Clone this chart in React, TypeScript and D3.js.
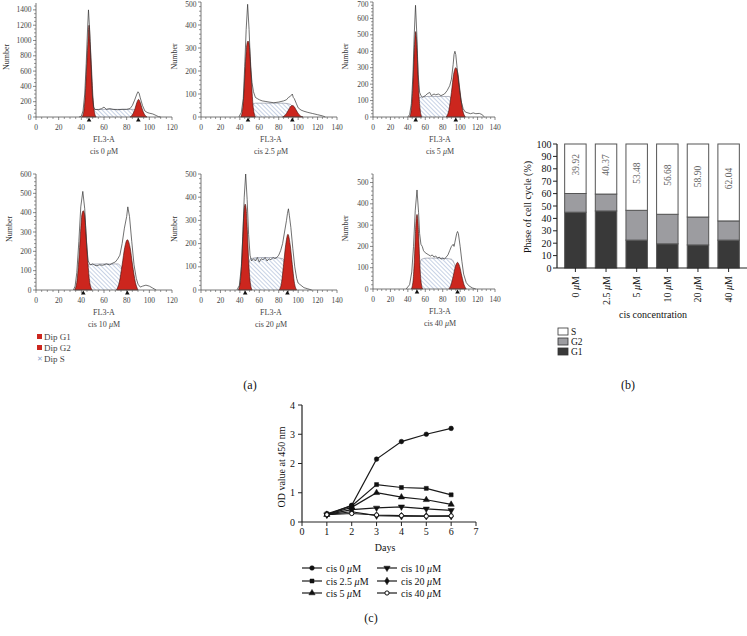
import React from 'react';
import * as d3 from 'd3';

type Pt = [number, number];

// ---------- (a) DNA histograms ----------
const histConc = ['0', '2.5', '5', '10', '20', '40'];
const g1Marks = [46.8, 48.4, 49, 41.7, 45.5, 50.5];
const g2Marks = [90.3, 94, 95, 80.6, 89, 97];

const outline0: Pt[] = [[38,0],[40,10],[41.5,80],[43,300],[44.3,700],[45.5,1150],[46.3,1400],[47.3,1150],[48.5,700],[49.7,300],[50.8,130],[52,100],[55,95],[58,110],[60,130],[62,100],[65,110],[68,100],[72,95],[76,100],[80,100],[83,110],[85,150],[87,220],[89,300],[90,330],[91,310],[92,250],[94,150],[96,80],[98,60],[100,50],[103,40],[106,20],[108,5],[110,0]];
const g1_0: Pt[] = [[40.5,0],[42,60],[43.3,250],[44.5,600],[45.7,950],[46.8,1200],[47.9,950],[49.1,600],[50.3,250],[51.6,60],[53,0]];
const g2_0: Pt[] = [[83,0],[85.5,40],[87.5,115],[89,190],[90.5,230],[92,190],[93.5,115],[95.5,40],[98,0]];
const s_0: Pt[] = [[46,0],[48,60],[50,95],[55,100],[60,100],[70,100],[80,100],[86,100],[89,60],[91,0]];

const outline25: Pt[] = [[39,0],[41.5,20],[43.5,80],[45,220],[46.5,380],[48,490],[49.5,380],[51,220],[52.5,150],[54,110],[56,85],[58,80],[60,75],[63,70],[66,68],[70,65],[75,62],[80,65],[85,70],[88,75],[90,85],[92,90],[94,100],[95,85],[96,80],[98,60],[100,40],[103,30],[106,25],[110,20],[115,15],[120,10],[125,5],[128,0]];
const g1_25: Pt[] = [[41,0],[43,40],[44.5,130],[45.8,240],[47.2,315],[48.4,330],[49.6,315],[51,240],[52.3,130],[53.8,40],[56,0]];
const g2_25: Pt[] = [[84,0],[87,10],[90,30],[92,45],[94,50],[96,45],[98,30],[101,10],[105,0]];
const s_25: Pt[] = [[48,0],[50,35],[53,55],[56,60],[70,60],[85,60],[92,55],[96,30],[100,0]];

const outline5: Pt[] = [[40,0],[42,15],[44,80],[45.8,250],[47.3,500],[48.8,680],[50.3,500],[51.8,260],[53.5,150],[55,130],[57,120],[60,130],[62,140],[65,150],[67,130],[70,140],[72,135],[75,140],[78,130],[82,140],[85,160],[88,190],[90,230],[92,320],[93,380],[94,400],[95,380],[96.5,300],[98.5,200],[101,100],[103.5,50],[106,30],[109,25],[112,20],[115,25],[118,20],[122,22],[125,15],[128,0]];
const g1_5: Pt[] = [[42,0],[44,50],[45.5,160],[46.8,330],[48,470],[49,520],[50,470],[51.2,330],[52.5,160],[54,50],[56,0]];
const g2_5: Pt[] = [[84,0],[87,40],[90,150],[92.5,260],[95,300],[97.5,260],[100,150],[103,40],[106,0]];
const s_5: Pt[] = [[49,0],[51,80],[54,120],[62,125],[77,125],[87,125],[91,100],[94,40],[96,0]];

const outline10: Pt[] = [[33,0],[34.5,20],[36,90],[37.8,250],[39.5,430],[41.3,510],[43,420],[44.5,250],[46,150],[48,130],[50,135],[53,125],[56,130],[59,128],[62,135],[65,130],[68,140],[70,145],[72,160],[74,180],[76,240],[78,320],[80,380],[81,430],[82.5,380],[84.5,250],[86.5,130],[88.5,60],[90,30],[92,15],[94,20],[97,25],[100,20],[103,10],[106,0]];
const g1_10: Pt[] = [[34,0],[36,40],[37.7,150],[39.2,290],[40.5,390],[41.7,410],[42.9,390],[44.2,290],[45.7,150],[47.4,40],[49.5,0]];
const g2_10: Pt[] = [[71,0],[73.5,40],[76,130],[78.3,220],[80.6,260],[83,220],[85.2,130],[87.7,40],[90,0]];
const s_10: Pt[] = [[41,0],[43,80],[46,130],[55,135],[65,135],[72,135],[76,110],[79,50],[81,0]];

const outline20: Pt[] = [[37,0],[39.5,20],[41.5,100],[43,230],[44.5,400],[46,500],[47.5,390],[49,240],[50.5,150],[52,125],[54,135],[56,125],[58,140],[60,120],[62,135],[64,130],[66,140],[68,125],[70,135],[72,130],[74,140],[76,135],[78,140],[80,150],[82,170],[84,200],[86,250],[88,300],[89,330],[90,350],[91,320],[92.5,270],[94.5,180],[96.5,100],[98.5,50],[100,30],[103,20],[106,10],[110,5],[114,0]];
const g1_20: Pt[] = [[38.5,0],[40.5,40],[42,130],[43.3,260],[44.4,345],[45.5,370],[46.6,345],[47.7,260],[49,130],[50.5,40],[52.5,0]];
const g2_20: Pt[] = [[80.5,0],[83,35],[85,110],[87.2,195],[89.5,240],[91.8,195],[94,110],[96,35],[98.5,0]];
const s_20: Pt[] = [[45,0],[48,90],[51,135],[60,140],[75,140],[84,135],[88,100],[91,40],[93,0]];

const outline40: Pt[] = [[38,0],[42,20],[44.5,80],[46.5,200],[48.5,370],[50.5,465],[52.3,360],[53.5,260],[55,210],[56.5,200],[58,180],[60,170],[62,165],[64,160],[66,155],[68,160],[70,150],[72,155],[74,145],[76,150],[78,140],[80,145],[82,140],[84,150],[86,160],[88,180],[90,200],[92,210],[93,200],[94,220],[96,260],[97,270],[98,260],[100,200],[102,130],[104,70],[107,30],[110,15],[114,5],[118,0]];
const g1_40: Pt[] = [[44,0],[46,40],[47.5,140],[48.7,260],[49.6,330],[50.5,350],[51.4,330],[52.3,260],[53.5,140],[55,40],[57,0]];
const g2_40: Pt[] = [[87,0],[89.5,20],[92,60],[94.5,105],[97,125],[99.5,105],[102,60],[104.5,20],[107,0]];
const s_40: Pt[] = [[50,0],[53,100],[56,140],[62,145],[78,145],[90,140],[95,100],[99,40],[102,0]];

const histOutlines = [outline0, outline25, outline5, outline10, outline20, outline40];
const histG1 = [g1_0, g1_25, g1_5, g1_10, g1_20, g1_40];
const histG2 = [g2_0, g2_25, g2_5, g2_10, g2_20, g2_40];
const histS = [s_0, s_25, s_5, s_10, s_20, s_40];
const histXMax = [120, 140, 140, 120, 140, 140];
const histYMax = [1490, 500, 700, 600, 500, 540];
const histYStep = [200, 100, 100, 100, 100, 100];
const histYMinor = [50, 20, 20, 20, 20, 20];
const legendA = ['Dip G1', 'Dip G2', 'Dip S'];

// ---------- (b) cell cycle phases ----------
const concLabels = ['0', '2.5', '5', '10', '20', '40'];
const g1Pct = [45.0, 46.0, 22.5, 19.5, 18.6, 22.5];
const g2Pct = [15.08, 13.63, 24.02, 23.82, 22.5, 15.46];
const sPct = [39.92, 40.37, 53.48, 56.68, 58.9, 62.04];
const phaseTicks = [0, 10, 20, 30, 40, 50, 60, 70, 80, 90, 100];

// ---------- (c) proliferation ----------
const days = [1, 2, 3, 4, 5, 6];
const od0 = [0.25, 0.57, 2.15, 2.75, 3.0, 3.2];
const od25 = [0.28, 0.55, 1.28, 1.18, 1.15, 0.93];
const od5 = [0.25, 0.5, 1.0, 0.85, 0.76, 0.6];
const od10 = [0.25, 0.42, 0.48, 0.52, 0.45, 0.4];
const od20 = [0.25, 0.35, 0.22, 0.2, 0.2, 0.2];
const od40 = [0.25, 0.29, 0.24, 0.22, 0.2, 0.21];
const odSeries = [od0, od25, od5, od10, od20, od40];
const odNames = ['0', '2.5', '5', '10', '20', '40'];

const FONT = '"Liberation Serif", "DejaVu Serif", serif';

type Layout = { x0: number; x1: number; y0: number; y1: number; numberX: number; labelX: number };
const layouts: Layout[] = [
  { x0: 36, x1: 172, y0: 117, y1: 3, numberX: 6, labelX: 104 },
  { x0: 201, x1: 337, y0: 117, y1: 2, numberX: 174, labelX: 271 },
  { x0: 373, x1: 495, y0: 117, y1: 2, numberX: 345, labelX: 440 },
  { x0: 36, x1: 172, y0: 290, y1: 174, numberX: 9, labelX: 104 },
  { x0: 201, x1: 337, y0: 290, y1: 174, numberX: 174, labelX: 271 },
  { x0: 373, x1: 495, y0: 289, y1: 174, numberX: 345, labelX: 440 },
];

function Mu({ v }: { v: string }) {
  return (
    <>
      {'cis ' + v + ' '}
      <tspan fontStyle="italic">μ</tspan>
      {'M'}
    </>
  );
}

function Histogram({ i }: { i: number }) {
  const L = layouts[i];
  const x = d3.scaleLinear().domain([0, histXMax[i]]).range([L.x0, L.x1]);
  const y = d3.scaleLinear().domain([0, histYMax[i]]).range([L.y0, L.y1]);
  const area = d3.area<Pt>().x(d => x(d[0])).y0(y(0)).y1(d => y(d[1])).curve(d3.curveMonotoneX);
  const topLine = d3.line<Pt>().x(d => x(d[0])).y(d => y(d[1])).curve(d3.curveMonotoneX);
  const raw = d3.line<Pt>().x(d => x(d[0])).y(d => y(d[1]));
  const xMajor = d3.range(0, histXMax[i] + 0.1, 20);
  const xMinor = d3.range(0, histXMax[i] + 0.1, 5).filter(v => v % 20 !== 0);
  const yMajor = d3.range(0, histYMax[i] + 0.1, histYStep[i]);
  const yMinor = d3.range(0, histYMax[i] + 0.1, histYMinor[i]).filter(v => v % histYStep[i] !== 0);
  const axisCol = '#555';
  const tri = (cx: number) => `M${cx},${L.y0 + 0.5} L${cx - 2.3},${L.y0 + 4.5} L${cx + 2.3},${L.y0 + 4.5} Z`;
  return (
    <g>
      <path d={area(histS[i]) || ''} fill="url(#hatchS)" stroke="none" />
      <path d={topLine(histS[i]) || ''} fill="none" stroke="#6a6f80" strokeWidth={0.5} />
      <path d={area(histG1[i]) || ''} fill="#cc261e" stroke="#3a0d0a" strokeWidth={0.6} />
      <path d={area(histG2[i]) || ''} fill="#cc261e" stroke="#3a0d0a" strokeWidth={0.6} />
      <path d={raw(histOutlines[i]) || ''} fill="none" stroke="#333" strokeWidth={0.7} />
      <line x1={L.x0} x2={L.x1} y1={L.y0} y2={L.y0} stroke={axisCol} strokeWidth={0.8} />
      <line x1={L.x0} x2={L.x0} y1={L.y0} y2={L.y1} stroke={axisCol} strokeWidth={0.8} />
      {xMajor.map(v => (
        <g key={'xM' + v}>
          <line x1={x(v)} x2={x(v)} y1={L.y0} y2={L.y0 + 3} stroke={axisCol} strokeWidth={0.7} />
          <text x={x(v)} y={L.y0 + 13} fontSize={7.5} textAnchor="middle" fill="#444">{v}</text>
        </g>
      ))}
      {xMinor.map(v => (
        <line key={'xm' + v} x1={x(v)} x2={x(v)} y1={L.y0} y2={L.y0 + 2} stroke={axisCol} strokeWidth={0.6} />
      ))}
      {yMajor.map(v => (
        <g key={'yM' + v}>
          <line x1={L.x0 - 3} x2={L.x0} y1={y(v)} y2={y(v)} stroke={axisCol} strokeWidth={0.7} />
          <text x={L.x0 - 4.5} y={Math.max(y(v) + 2.6, 7)} fontSize={7.5} textAnchor="end" fill="#444">{v}</text>
        </g>
      ))}
      {yMinor.map(v => (
        <line key={'ym' + v} x1={L.x0 - 2} x2={L.x0} y1={y(v)} y2={y(v)} stroke={axisCol} strokeWidth={0.6} />
      ))}
      <path d={tri(x(g1Marks[i]))} fill="#111" />
      <path d={tri(x(g2Marks[i]))} fill="#111" />
      <text transform={`translate(${L.numberX + 3},${(L.y0 + L.y1) / 2 - 3}) rotate(-90)`} fontSize={8} textAnchor="middle" fill="#333">Number</text>
      <text x={L.labelX} y={L.y0 + 25} fontSize={8} textAnchor="middle" fill="#444">FL3-A</text>
      <text x={L.labelX} y={L.y0 + 37} fontSize={8} textAnchor="middle" fill="#444"><Mu v={histConc[i]} /></text>
    </g>
  );
}

function BarChart() {
  const x = d3.scaleBand<string>().domain(concLabels).range([557, 747]).paddingInner(0.3).paddingOuter(0.25);
  const y = d3.scaleLinear().domain([0, 100]).range([268, 144]);
  const rows = concLabels.map((c, k) => ({ c, G1: g1Pct[k], G2: g2Pct[k], S: sPct[k] }));
  const stack = d3.stack<any>().keys(['G1', 'G2', 'S'])(rows);
  const fills: Record<string, string> = { G1: '#393939', G2: '#9c9ca0', S: '#ffffff' };
  const bw = x.bandwidth();
  return (
    <g>
      {stack.map(layer => (
        <g key={layer.key}>
          {layer.map((d, k) => (
            <rect key={k} x={x(concLabels[k])} y={y(d[1])} width={bw} height={y(d[0]) - y(d[1])}
              fill={fills[layer.key]} stroke="#555" strokeWidth={1} />
          ))}
        </g>
      ))}
      {stack[2].map((d, k) => {
        const cx = (x(concLabels[k]) as number) + bw / 2;
        const cy = (y(d[0]) + y(d[1])) / 2 - 4;
        return (
          <text key={'sl' + k} transform={`translate(${cx + 3.3},${cy}) rotate(-90)`} fontSize={9.5} textAnchor="middle" fill="#666">{sPct[k].toFixed(2)}</text>
        );
      })}
      <line x1={557} x2={747} y1={268} y2={268} stroke="#222" strokeWidth={1.2} />
      <line x1={557} x2={557} y1={268} y2={144} stroke="#222" strokeWidth={1.2} />
      {phaseTicks.map(v => (
        <g key={'pt' + v}>
          <line x1={553} x2={557} y1={y(v)} y2={y(v)} stroke="#222" strokeWidth={1} />
          <text x={551.5} y={y(v) + 3.5} fontSize={10} textAnchor="end" fill="#111">{v}</text>
        </g>
      ))}
      {concLabels.map(c => {
        const cx = (x(c) as number) + bw / 2;
        return (
          <g key={'cl' + c}>
            <line x1={cx} x2={cx} y1={268} y2={272} stroke="#222" strokeWidth={1} />
            <text transform={`translate(${cx + 3.5},${276}) rotate(-90)`} fontSize={10} textAnchor="end" fill="#111">
              {c + ' '}<tspan fontStyle="italic">μ</tspan>M
            </text>
          </g>
        );
      })}
      <text transform="translate(531,207) rotate(-90)" fontSize={10} textAnchor="middle" fill="#111">Phase of cell cycle (%)</text>
      <text x={653} y={318} fontSize={10} textAnchor="middle" fill="#111">cis concentration</text>
      {['S', 'G2', 'G1'].map((k, j) => (
        <g key={'lb' + k}>
          <rect x={558} y={328 + j * 10} width={10} height={7} fill={fills[k]} stroke="#333" strokeWidth={0.8} />
          <text x={571} y={335 + j * 10} fontSize={9.5} fill="#111">{k}</text>
        </g>
      ))}
    </g>
  );
}

const symbolPaths = [
  d3.symbol().type(d3.symbolCircle).size(17)(),
  d3.symbol().type(d3.symbolSquare).size(16)(),
  d3.symbol().type(d3.symbolTriangle).size(17)(),
  d3.symbol().type(d3.symbolTriangle).size(17)(),
  d3.symbol().type(d3.symbolDiamond).size(17)(),
  d3.symbol().type(d3.symbolCircle).size(14)(),
];

function Marker({ k, cx, cy }: { k: number; cx: number; cy: number }) {
  const rot = k === 3 ? ' rotate(180)' : '';
  const open = k === 5;
  return (
    <path d={symbolPaths[k] || ''} transform={`translate(${cx},${cy})${rot}`}
      fill={open ? '#fff' : '#111'} stroke="#111" strokeWidth={open ? 1 : 0.5} />
  );
}

function LineChart() {
  const x = d3.scaleLinear().domain([0, 7]).range([302, 476]);
  const y = d3.scaleLinear().domain([0, 4]).range([522, 405]);
  const line = d3.line<number>().x((_, k) => x(days[k])).y(d => y(d));
  const legendPos = [[302, 568], [302, 581], [302, 593], [377, 568], [377, 581], [377, 593]];
  return (
    <g>
      {odSeries.map((s, k) => (
        <path key={'l' + k} d={line(s) || ''} fill="none" stroke="#1a1a1a" strokeWidth={1.2} />
      ))}
      {odSeries.map((s, k) => s.map((v, j) => <Marker key={'m' + k + '-' + j} k={k} cx={x(days[j])} cy={y(v)} />))}
      <line x1={302} x2={476} y1={522} y2={522} stroke="#222" strokeWidth={1.2} />
      <line x1={302} x2={302} y1={522} y2={405} stroke="#222" strokeWidth={1.2} />
      {d3.range(0, 8).map(v => (
        <g key={'xt' + v}>
          <line x1={x(v)} x2={x(v)} y1={522} y2={526} stroke="#222" strokeWidth={1} />
          <text x={x(v)} y={535} fontSize={10} textAnchor="middle" fill="#111">{v}</text>
        </g>
      ))}
      {d3.range(0, 5).map(v => (
        <g key={'yt' + v}>
          <line x1={298} x2={302} y1={y(v)} y2={y(v)} stroke="#222" strokeWidth={1} />
          <text x={295} y={y(v) + 3.5} fontSize={10} textAnchor="end" fill="#111">{v}</text>
        </g>
      ))}
      <text transform="translate(285,467) rotate(-90)" fontSize={10} textAnchor="middle" fill="#111">OD value at 450 nm</text>
      <text x={385} y={551} fontSize={10} textAnchor="middle" fill="#111">Days</text>
      {odNames.map((n, k) => {
        const [lx, ly] = legendPos[k];
        return (
          <g key={'lg' + k}>
            <line x1={lx} x2={lx + 20} y1={ly} y2={ly} stroke="#1a1a1a" strokeWidth={1.2} />
            <Marker k={k} cx={lx + 10} cy={ly} />
            <text x={lx + 24} y={ly + 3.5} fontSize={10} fill="#111"><Mu v={n} /></text>
          </g>
        );
      })}
    </g>
  );
}

export default function App() {
  return (
    <div style={{ position: 'absolute', left: 0, top: 0, width: 747, height: 636, background: '#fff' }}>
      <svg width={747} height={636} fontFamily={FONT} style={{ display: 'block' }}>
        <defs>
          <pattern id="hatchS" patternUnits="userSpaceOnUse" width={3} height={3} patternTransform="rotate(-45)">
            <rect width={3} height={3} fill="#fff" />
            <line x1={0} y1={0} x2={0} y2={3} stroke="#8fa6cc" strokeWidth={1} />
          </pattern>
        </defs>
        <rect width={747} height={636} fill="#fff" />
        {layouts.map((_, i) => <Histogram key={i} i={i} />)}
        {legendA.map((t, j) => (
          <g key={'la' + j}>
            {j < 2 ? (
              <rect x={37} y={334 + j * 11} width={5} height={5} fill="#cc261e" />
            ) : (
              <text x={36.5} y={339 + j * 11} fontSize={7} fill="#8fa6cc">✕</text>
            )}
            <text x={44} y={340 + j * 11} fontSize={9} fill="#444">{t}</text>
          </g>
        ))}
        <text x={250} y={389} fontSize={12} textAnchor="middle" fill="#111">(a)</text>
        <BarChart />
        <text x={628} y={389} fontSize={12} textAnchor="middle" fill="#111">(b)</text>
        <LineChart />
        <text x={371} y={622} fontSize={12} textAnchor="middle" fill="#111">(c)</text>
      </svg>
    </div>
  );
}
